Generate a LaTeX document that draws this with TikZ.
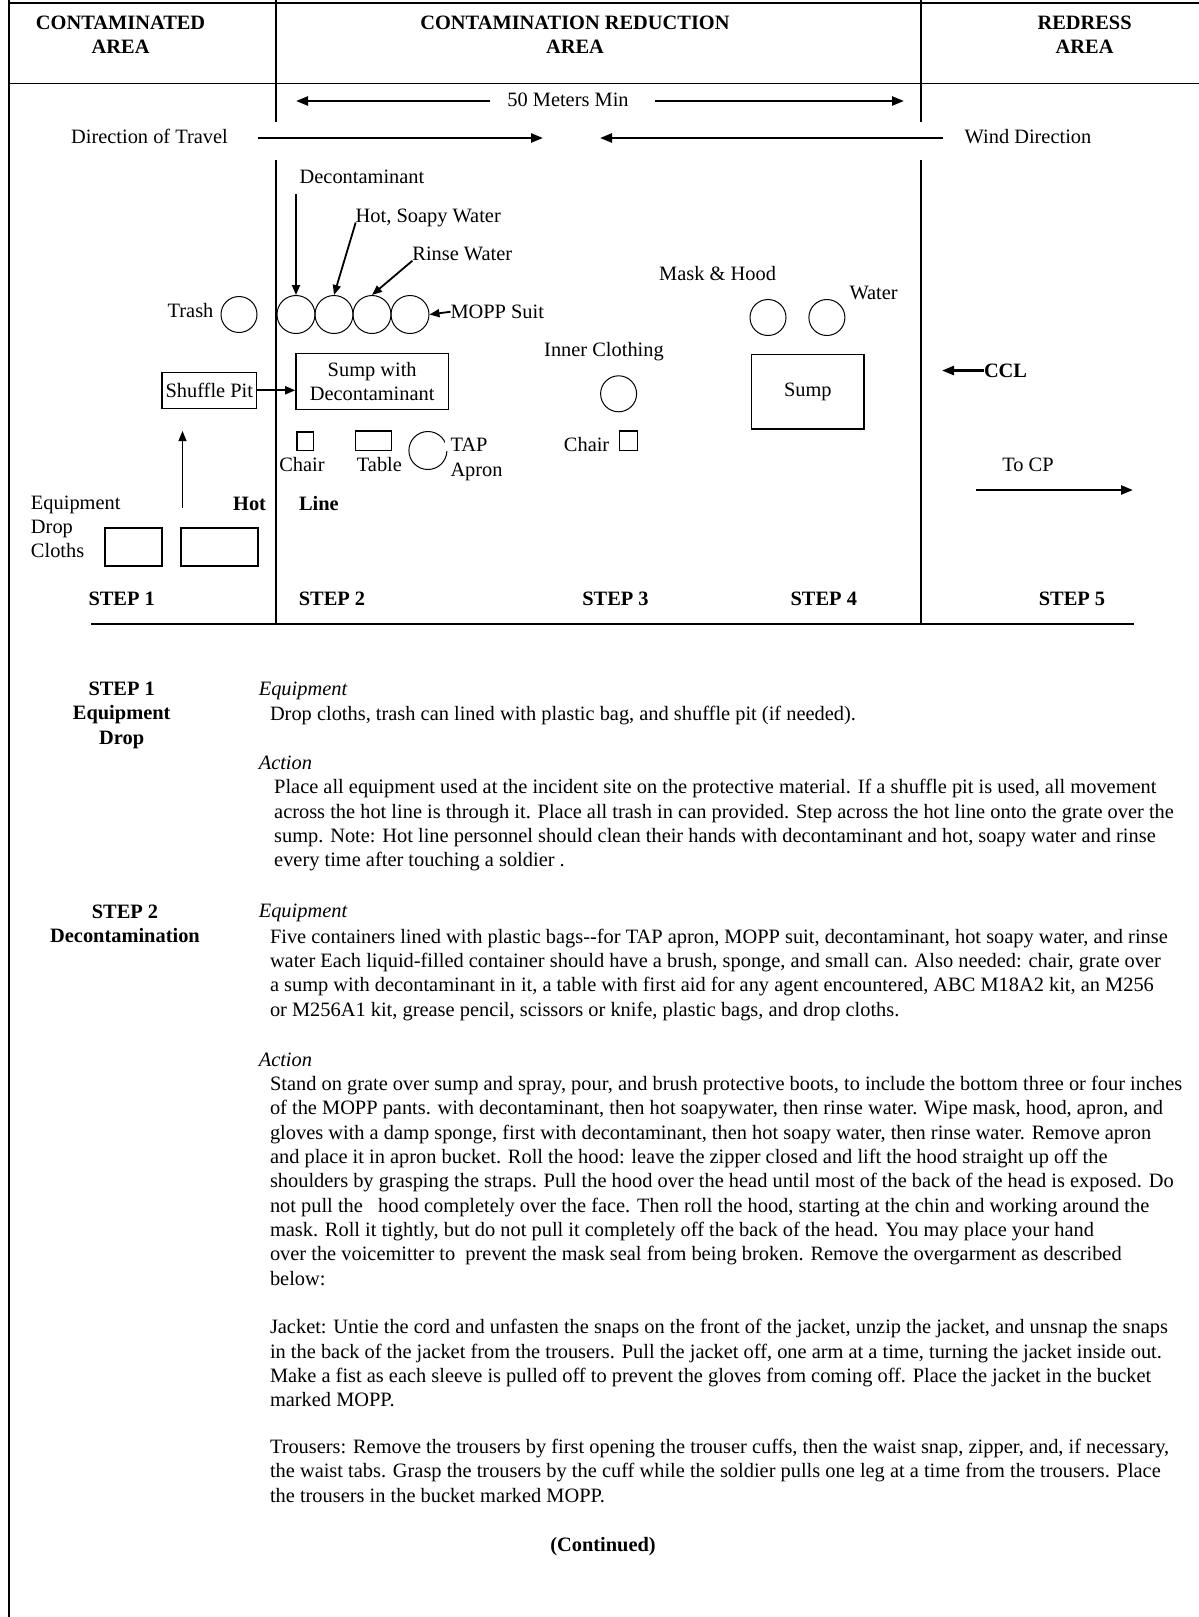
\documentclass[tikz,border=0pt]{standalone}
\usepackage{fontspec}
\setmainfont{Liberation Serif}
\usetikzlibrary{arrows.meta}
\newcommand\diagfont{\fontsize{10.2}{12.15}\selectfont}

\begin{document}
\begin{tikzpicture}[x=0.5pt, y=-0.5pt,
  lbl/.style={inner sep=0pt, outer sep=0pt, font=\diagfont},
  bold/.style={lbl, font=\diagfont\bfseries},
  ital/.style={lbl, font=\diagfont\itshape},
  para/.style={lbl, align=left, anchor=north west},
  bin/.style={circle, draw, line width=0.5pt, minimum size=18pt, inner sep=0pt},
  tub/.style={rectangle, draw, line width=0.7pt, inner sep=0pt, font=\diagfont},
  rule/.style={line width=1pt},
  flow/.style={-{Triangle[length=5pt,width=4pt]}, line width=0.9pt},
  thinflow/.style={-{Triangle[length=5pt,width=4pt]}, line width=0.5pt},
  wide/.style={-{Triangle[length=6pt,width=4.5pt]}, line width=1.2pt}
]
\useasboundingbox (0,0) rectangle (1199,1617);

% frame and area rules
\draw[line width=0.6pt] (9,0) -- (9,1617);
\draw[line width=0.6pt] (9,3) -- (1199,3);
\draw[line width=0.6pt] (9,83.5) -- (1199,83.5);
\draw[rule] (276,0) -- (276,122);
\draw[rule] (276,160) -- (276,624);
\draw[rule] (921,0) -- (921,122);
\draw[rule] (921,160) -- (921,624);
\draw[line width=1.3pt] (91,624) -- (1134,624);

% area headings
\node[bold, align=center, anchor=north] (hcont) at (120.6,12.4) {\strut CONTAMINATED\\AREA};
\node[bold, align=center, anchor=north] (hred) at (575,12.4) {\strut CONTAMINATION REDUCTION\\AREA};
\node[bold, align=center, anchor=north] (hdress) at (1084.6,12.4) {\strut REDRESS\\AREA};

% distance, travel and wind
\node[lbl, anchor=base] (meters) at (568,106) {50 Meters Min};
\coordinate (mlt) at (490,101);
\coordinate (mlh) at (296,101);
\coordinate (mrt) at (655,101);
\coordinate (mrh) at (904,101);
\draw[wide] (mlt) -- (mlh);
\draw[wide] (mrt) -- (mrh);
\node[lbl, anchor=base] (travel) at (149.5,143) {Direction of Travel};
\coordinate (travt) at (258,138);
\coordinate (travh) at (543,138);
\draw[wide] (travt) -- (travh);
\node[lbl, anchor=base] (wind) at (1028,143) {Wind Direction};
\coordinate (windt) at (943,138);
\coordinate (windh) at (600,138);
\draw[wide] (windt) -- (windh);

% step 1 and 2 layout
\node[bin] (trash) at (239,314.5) {};
\node[lbl, anchor=base east] (trashlbl) at (213.4,317) {Trash};
\node[bin, minimum size=19pt] (c1) at (296,314.5) {};
\node[bin, minimum size=19pt] (c2) at (334,314.5) {};
\node[bin, minimum size=19pt] (c3) at (372,314.5) {};
\node[bin, minimum size=19pt] (c4) at (410,314.5) {};
\node[lbl, anchor=base] (decon) at (362,183.3) {Decontaminant};
\coordinate (decont) at (296,194);
\draw[flow] (decont) -- (c1.north);
\node[lbl, anchor=base west] (soapy) at (355.7,222.5) {Hot, Soapy Water};
\draw[flow] (soapy.base west) -- (c2.north);
\node[lbl, anchor=base west] (rinse) at (412.4,260.7) {Rinse Water};
\draw[flow] (rinse.base west) -- (c3.north);
\node[lbl, anchor=base west] (mopp) at (450.5,318.4) {MOPP Suit};
\draw[flow] (mopp.west) -- (c4.east);

\node[tub, minimum width=47.4pt, minimum height=18pt] (shuffle) at (209.3,390.3) {Shuffle Pit};
\node[tub, minimum width=76.3pt, minimum height=27.9pt, align=center] (sumpdec) at (372.2,381.5) {Sump with\\Decontaminant};
\draw[flow] (shuffle.east) -- (shuffle.east -| sumpdec.west);

\node[tub, minimum width=8.2pt, minimum height=9.3pt] (chair2) at (305.2,441.3) {};
\node[lbl, anchor=base] (chair2lbl) at (302,471) {Chair};
\node[tub, minimum width=18pt, minimum height=9.7pt] (table) at (373.7,440.8) {};
\node[lbl, anchor=base] (tablelbl) at (379.4,471) {Table};
\node[bin, minimum size=19pt] (apron) at (427.9,450.5) {};
\node[lbl, anchor=base west, fill=white, inner xsep=3pt] (taplbl) at (444.5,451.4) {TAP};
\node[lbl, anchor=base west, fill=white, inner xsep=3pt] (apronlbl) at (444.5,476) {Apron};

\coordinate (upt) at (182.5,508.3);
\coordinate (uph) at (182.5,431);
\draw[thinflow] (upt) -- (uph);
\node[para] (droplbl) at (31,492) {\strut Equipment\\Drop\\Cloths};
\node[tub, line width=1pt, minimum width=28.4pt, minimum height=19pt] (cloth1) at (133.5,547) {};
\node[tub, line width=1pt, minimum width=38.2pt, minimum height=19pt] (cloth2) at (219.6,547) {};
\node[bold, anchor=base east] (hot) at (266,510) {Hot};
\node[bold, anchor=base west] (line) at (299,510) {Line};

% step 3 and 4 layout
\node[lbl, anchor=base] (inner) at (604,356.5) {Inner Clothing};
\node[bin] (innerbin) at (618.6,393.8) {};
\node[lbl, anchor=base] (chair3lbl) at (586.6,451.4) {Chair};
\node[tub, minimum width=8.8pt, minimum height=9.7pt] (chair3) at (628.4,440.8) {};
\node[lbl, anchor=base] (mask) at (717.6,280.2) {Mask \& Hood};
\node[bin] (maskbin) at (768,317.5) {};
\node[bin] (waterbin) at (826.9,317.5) {};
\node[lbl, anchor=base west] (water) at (849.5,299.8) {Water};
\node[tub, minimum width=56.2pt, minimum height=37.1pt] (sump) at (807.8,391.8) {Sump};

% step 5 layout
\node[bold, anchor=base west] (ccl) at (984,377.2) {CCL};
\draw[wide] (ccl.west) -- ++(-42,0);
\node[lbl, anchor=base] (tocp) at (1028,471) {To CP};
\coordinate (cpt) at (976,490);
\coordinate (cph) at (1133,490);
\draw[wide] (cpt) -- (cph);

\node[bold, anchor=base] (s1) at (121.7,605) {STEP 1};
\node[bold, anchor=base] (s2) at (332,605) {STEP 2};
\node[bold, anchor=base] (s3) at (615.5,605) {STEP 3};
\node[bold, anchor=base] (s4) at (823.8,605) {STEP 4};
\node[bold, anchor=base] (s5) at (1072,605) {STEP 5};

% step 1 text
\node[bold, align=center, anchor=north] (step1) at (121.7,678.4) {\strut STEP 1\\Equipment\\Drop};
\node[ital, anchor=base west] (eq1) at (258.8,695.7) {Equipment};
\node[lbl, anchor=base west] (eq1txt) at (270,720.5) {Drop cloths, trash can lined with plastic bag, and shuffle pit (if needed).};
\node[ital, anchor=base west] (act1) at (258.8,769) {Action};
\node[para] (act1txt) at (274.2,776.7) {\strut Place all equipment used at the incident site on the protective material. If a shuffle pit is used, all movement\\
across the hot line is through it. Place all trash in can provided. Step across the hot line onto the grate over the\\
sump. Note: Hot line personnel should clean their hands with decontaminant and hot, soapy water and rinse\\
every time after touching a soldier .};

% step 2 text
\node[bold, align=center, anchor=north] (step2) at (125,901) {\strut STEP 2\\Decontamination};
\node[ital, anchor=base west] (eq2) at (258.8,917.4) {Equipment};
\node[para] (eq2txt) at (270,926.2) {\strut Five containers lined with plastic bags-{}-for TAP apron, MOPP suit, decontaminant, hot soapy water, and rinse\\
water Each liquid-filled container should have a brush, sponge, and small can. Also needed: chair, grate over\\
a sump with decontaminant in it, a table with first aid for any agent encountered, ABC M18A2 kit, an M256\\
or M256A1 kit, grease pencil, scissors or knife, plastic bags, and drop cloths.};
\node[ital, anchor=base west] (act2) at (258.8,1066) {Action};
\node[para] (act2txt) at (270,1073.6) {\strut Stand on grate over sump and spray, pour, and brush protective boots, to include the bottom three or four inches\\
of the MOPP pants. with decontaminant, then hot soapywater, then rinse water. Wipe mask, hood, apron, and\\
gloves with a damp sponge, first with decontaminant, then hot soapy water, then rinse water. Remove apron\\
and place it in apron bucket. Roll the hood: leave the zipper closed and lift the hood straight up off the\\
shoulders by grasping the straps. Pull the hood over the head until most of the back of the head is exposed. Do\\
not pull the \ \ hood completely over the face. Then roll the hood, starting at the chin and working around the\\
mask. Roll it tightly, but do not pull it completely off the back of the head. You may place your hand\\
over the voicemitter to \ prevent the mask seal from being broken. Remove the overgarment as described\\
below:};
\node[para] (jacket) at (270,1316.9) {\strut Jacket: Untie the cord and unfasten the snaps on the front of the jacket, unzip the jacket, and unsnap the snaps\\
in the back of the jacket from the trousers. Pull the jacket off, one arm at a time, turning the jacket inside out.\\
Make a fist as each sleeve is pulled off to prevent the gloves from coming off. Place the jacket in the bucket\\
marked MOPP.};
\node[para] (trousers) at (270,1436.5) {\strut Trousers: Remove the trousers by first opening the trouser cuffs, then the waist snap, zipper, and, if necessary,\\
the waist tabs. Grasp the trousers by the cuff while the soldier pulls one leg at a time from the trousers. Place\\
the trousers in the bucket marked MOPP.};
\node[bold, anchor=base] (cont) at (603,1551) {(Continued)};
\end{tikzpicture}
\end{document}
